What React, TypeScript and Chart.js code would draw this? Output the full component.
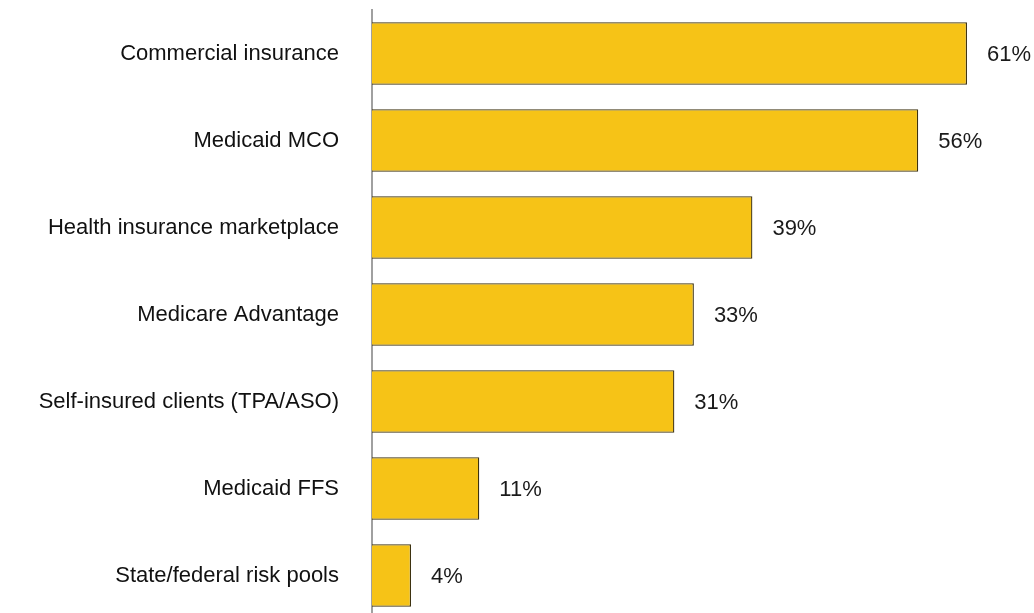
import React, { useEffect, useRef } from "react";
import { Chart, registerables } from "chart.js";

Chart.register(...registerables);

const categories = [
  "Commercial insurance",
  "Medicaid MCO",
  "Health insurance marketplace",
  "Medicare Advantage",
  "Self-insured clients (TPA/ASO)",
  "Medicaid FFS",
  "State/federal risk pools",
];
const values = [61, 56, 39, 33, 31, 11, 4];
const valueLabels = ["61%", "56%", "39%", "33%", "31%", "11%", "4%"];

const FONT = "'Liberation Sans', Arial, Helvetica, sans-serif";

const valueLabelPlugin = {
  id: "valueLabels",
  afterDatasetsDraw(chart: any) {
    const ctx = chart.ctx;
    const meta = chart.getDatasetMeta(0);
    ctx.save();
    ctx.font = `22px ${FONT}`;
    ctx.fillStyle = "#1a1a1a";
    ctx.textAlign = "left";
    ctx.textBaseline = "middle";
    meta.data.forEach((bar: any, i: number) => {
      ctx.fillText(valueLabels[i], bar.x + 20, bar.y + 1);
    });
    ctx.restore();
  },
};

export default function App() {
  const ref = useRef<HTMLCanvasElement | null>(null);
  useEffect(() => {
    if (!ref.current) return;
    const chart = new Chart(ref.current, {
      type: "bar",
      data: {
        labels: categories,
        datasets: [
          {
            data: values,
            backgroundColor: "#F6C317",
            borderColor: "#3d3210",
            borderWidth: 1.3,
            categoryPercentage: 1,
            barPercentage: 0.72,
          },
        ],
      },
      options: {
        indexAxis: "y",
        responsive: true,
        maintainAspectRatio: false,
        animation: false,
        layout: { padding: { top: 10, bottom: 6, right: 28, left: 0 } },
        plugins: {
          legend: { display: false },
          tooltip: { enabled: false },
          title: { display: false },
        },
        scales: {
          x: {
            display: false,
            min: 0,
            max: 65,
          },
          y: {
            grid: { display: false, drawTicks: false },
            border: { display: true, color: "#a0a0a0", width: 2 },
            ticks: {
              color: "#111111",
              font: { family: FONT, size: 22 },
              padding: 33,
            },
            afterFit(scale: any) {
              scale.width = 372;
              scale.paddingTop = 0;
              scale.paddingBottom = 0;
            },
          },
        },
      },
      plugins: [valueLabelPlugin],
    });
    return () => chart.destroy();
  }, []);
  return (
    <div
      style={{
        position: "fixed",
        left: 0,
        top: 0,
        width: 1034,
        height: 613,
        overflow: "hidden",
        background: "#ffffff",
      }}
    >
      <div style={{ position: "relative", width: 1034, height: 625 }}>
        <canvas ref={ref} />
      </div>
    </div>
  );
}
